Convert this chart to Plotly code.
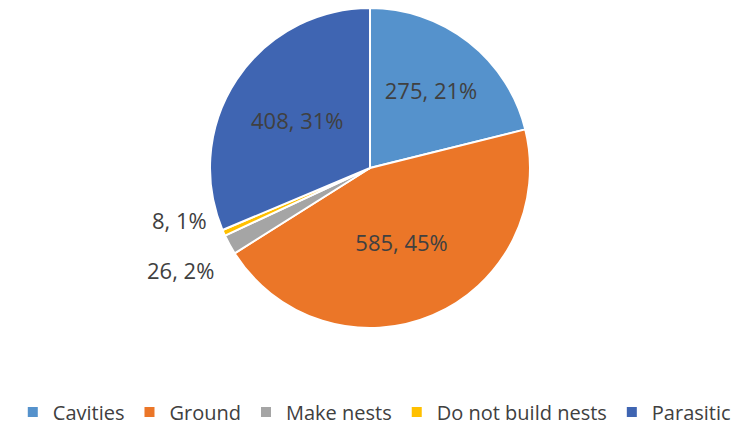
import math
import plotly.graph_objects as go

categories = ["Cavities", "Ground", "Make nests", "Do not build nests", "Parasitic"]
values = [275, 585, 26, 8, 408]
colors = ["#5592CC", "#EB7628", "#A5A5A5", "#FFC000", "#3F65B2"]
inside_label = [True, True, False, False, True]

# layout geometry (page has an 8px body margin, so figure is 737x417)
W, H = 737, 417
R = 160                      # pie radius in px
plot_h = 2 * R
dom_x1 = 724 / W             # pie centre at 362 px
label_factor = 1.1
label_yshift = {2: -18, 3: 19}

total = sum(values)
texts = [f"{v}, {round(100 * v / total)}%" for v in values]

fig = go.Figure(go.Pie(
    labels=categories,
    values=values,
    sort=False,
    direction="clockwise",
    rotation=0,
    marker=dict(colors=colors, line=dict(color="white", width=2)),
    text=[t if ins else "" for t, ins in zip(texts, inside_label)],
    texttemplate="%{text}",
    textposition=["inside" if ins else "none" for ins in inside_label],
    insidetextorientation="horizontal",
    textfont=dict(family="Open Sans", size=22, color="#404040"),
    domain=dict(x=[0, dom_x1], y=[0, 1]),
    showlegend=True,
    hoverinfo="label+value+percent",
))

# outside labels for the thin slices, placed from the slice mid-angles
cx = dom_x1 / 2
cum = 0
for i, v in enumerate(values):
    mid = (cum + v / 2) / total * 2 * math.pi
    cum += v
    if inside_label[i]:
        continue
    fig.add_annotation(
        x=cx + label_factor * R * math.sin(mid) / W,
        y=0.5 + label_factor * R * math.cos(mid) / plot_h,
        xref="paper", yref="paper",
        text=texts[i], showarrow=False,
        xanchor="right", yanchor="middle",
        yshift=label_yshift.get(i, 0),
        font=dict(family="Open Sans", size=22, color="#404040"),
    )

fig.update_layout(
    width=W,
    height=H,
    margin=dict(l=0, r=0, t=0, b=H - plot_h, autoexpand=False),
    paper_bgcolor="white",
    plot_bgcolor="white",
    font=dict(family="Open Sans", color="#404040"),
    legend=dict(
        orientation="h",
        x=0.497, xanchor="center",
        y=-0.2625, yanchor="middle",
        font=dict(family="Open Sans", size=20, color="#404040"),
        itemwidth=30,
        traceorder="normal",
    ),
)

fig.write_html("out.html")
